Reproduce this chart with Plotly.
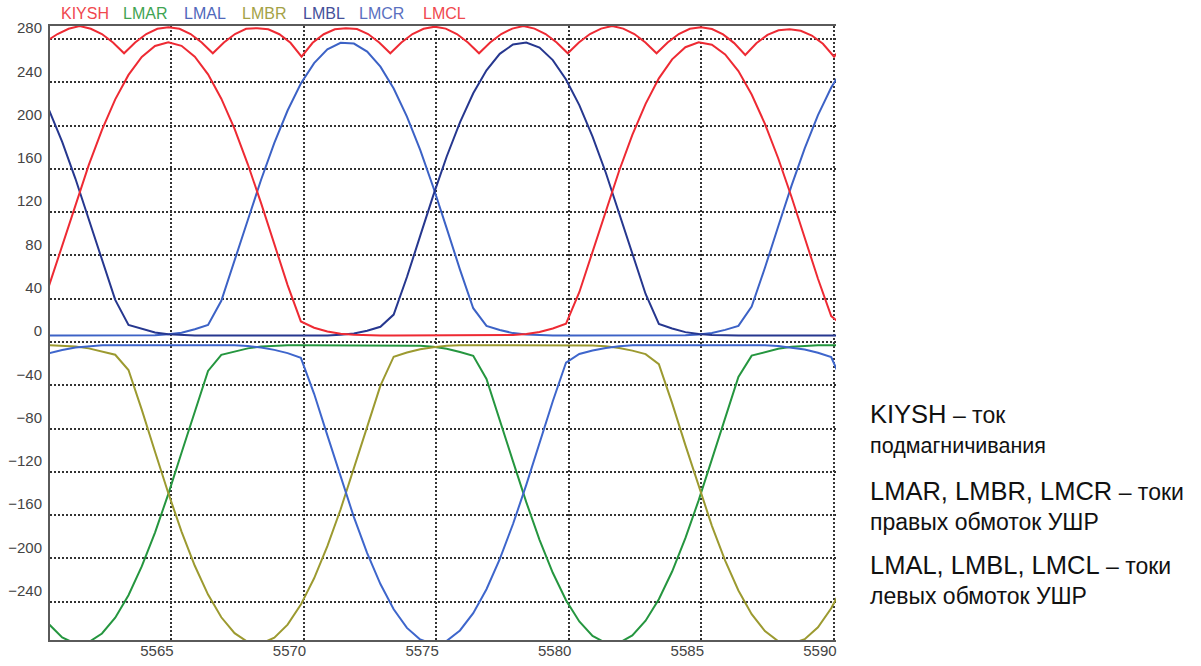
import plotly.graph_objects as go

# sample times (shared by the winding currents)
t = [5560.4, 5560.9, 5561.4, 5561.9, 5562.4, 5562.9, 5563.4, 5563.9, 5564.4, 5564.9,
     5565.4, 5565.9, 5566.4, 5566.9, 5567.4, 5567.9, 5568.4, 5568.9, 5569.4, 5569.9,
     5570.4, 5570.9, 5571.4, 5571.9, 5572.4, 5572.9, 5573.4, 5573.9, 5574.4, 5574.9,
     5575.4, 5575.9, 5576.4, 5576.9, 5577.4, 5577.9, 5578.4, 5578.9, 5579.4, 5579.9,
     5580.4, 5580.9, 5581.4, 5581.9, 5582.4, 5582.9, 5583.4, 5583.9, 5584.4, 5584.9,
     5585.4, 5585.9, 5586.4, 5586.9, 5587.4, 5587.9, 5588.4, 5588.9, 5589.4, 5589.9,
     5590.4]

LMAL = [6, 6, 6, 6, 6, 6, 6, 6, 6.3, 7.1,
        8.6, 11.8, 15.7, 38.1, 74.5, 112.7, 149.9, 184.0, 213.9, 238.8,
        257.7, 270.4, 276.5, 275.8, 268.4, 254.4, 234.2, 208.2, 177.5, 142.5,
        105.0, 66.9, 31.2, 14.8, 11.1, 8.2, 6.9, 6.2, 6, 6,
        6, 6, 6, 6, 6, 6, 6, 6, 6.2, 7.0,
        8.3, 11.2, 14.9, 32.7, 68.6, 106.7, 144.2, 178.9, 209.6, 235.2,
        255.1]

LMAR = [-260.8, -273.1, -278.7, -277.4, -269.4, -254.8, -234.0, -207.4, -176.1, -140.6,
        -102.3, -63.5, -26.8, -11.9, -8.6, -5.9, -4.2, -3.3, -3, -3,
        -3, -3, -3, -3, -3, -3, -3, -3, -3.4, -4.5,
        -6.3, -9.2, -12.8, -34.1, -71.3, -110.3, -148.0, -182.8, -213.3, -238.7,
        -258.3, -271.6, -278.2, -278.1, -271.1, -257.6, -237.7, -212.1, -181.3, -146.4,
        -108.5, -69.6, -32.3, -12.6, -9.1, -6.3, -4.4, -3.4, -3, -3,
        -3]

LMBL = [214.6, 184.9, 150.8, 113.7, 75.5, 38.9, 15.8, 11.9, 8.7, 7.2,
        6.3, 6, 6, 6, 6, 6, 6, 6, 6, 6,
        6, 6.1, 6.7, 7.9, 10.4, 14.0, 25.3, 60.0, 98.0, 135.9,
        171.4, 203.0, 229.8, 251.1, 266.3, 274.9, 276.8, 272.0, 260.5, 242.6,
        218.9, 189.8, 156.4, 119.7, 81.5, 44.4, 16.6, 12.4, 9.1, 7.3,
        6.4, 6, 6, 6, 6, 6, 6, 6, 6, 6,
        6]

LMBR = [-3, -3.3, -4.2, -5.9, -8.5, -11.8, -25.9, -62.5, -101.5, -139.6,
        -175.2, -206.8, -233.4, -254.4, -269.1, -277.3, -278.7, -273.3, -261.2, -242.7,
        -218.4, -188.7, -154.6, -117.4, -78.4, -40.4, -13.6, -9.7, -6.8, -4.8,
        -3.5, -3, -3, -3, -3, -3, -3, -3, -3, -3,
        -3, -3.2, -4.0, -5.6, -8.0, -11.2, -20.5, -56.5, -95.3, -133.7,
        -169.9, -202.1, -229.6, -251.5, -267.2, -276.5, -278.9, -274.6, -263.6, -246.1,
        -222.6]

LMCL = [51.7, 89.3, 127.3, 163.4, 196.1, 224.2, 246.8, 263.4, 273.5, 277.0,
        273.7, 263.7, 247.3, 224.8, 196.9, 164.2, 128.3, 90.2, 52.6, 19.0,
        13.2, 9.7, 7.6, 6.6, 6.0, 6, 6, 6, 6, 6,
        6, 6, 6, 6, 6, 6.4, 7.4, 9.2, 12.5, 16.9,
        46.0, 83.2, 121.4, 158.0, 191.3, 220.1, 243.6, 261.2, 272.4, 276.9,
        274.7, 265.7, 250.3, 228.7, 201.6, 169.8, 134.2, 96.3, 58.4, 23.9,
        13.8]

LMCR = [-10.4, -7.4, -5.2, -3.8, -3, -3, -3, -3, -3, -3,
        -3, -3, -3, -3, -3, -3.7, -5.1, -7.3, -10.3, -14.6,
        -47.9, -86.3, -125.1, -161.9, -195.1, -223.7, -247.0, -264.2, -275.0, -279.0,
        -276.2, -266.6, -250.6, -228.5, -200.7, -168.2, -132.1, -93.5, -54.8, -19.0,
        -11.1, -7.9, -5.5, -4.0, -3.1, -3, -3, -3, -3, -3,
        -3, -3, -3, -3, -3, -3.7, -5.0, -6.9, -9.9, -13.9,
        -42.1]

# magnetising current (own sample times, includes the cusps)
t_kiysh = [5560.400, 5560.724, 5561.142, 5561.560, 5561.978, 5562.397, 5562.815, 5563.233,
           5563.651, 5564.070, 5564.488, 5564.906, 5565.324, 5565.743, 5566.161, 5566.580,
           5566.998, 5567.416, 5567.835, 5568.253, 5568.671, 5569.090, 5569.508, 5569.926,
           5570.344, 5570.763, 5571.181, 5571.599, 5572.017, 5572.436, 5572.854, 5573.273,
           5573.691, 5574.109, 5574.528, 5574.946, 5575.364, 5575.783, 5576.201, 5576.619,
           5577.037, 5577.456, 5577.874, 5578.292, 5578.710, 5579.129, 5579.547, 5579.966,
           5580.384, 5580.802, 5581.221, 5581.639, 5582.057, 5582.476, 5582.894, 5583.313,
           5583.731, 5584.149, 5584.568, 5584.986, 5585.404, 5585.822, 5586.241, 5586.659,
           5587.077, 5587.496, 5587.914, 5588.332, 5588.750, 5589.169, 5589.587, 5590.006,
           5590.424]
KIYSH = [279.5, 284.6, 289.4, 292.0, 289.4, 284.6, 276.8, 266.8,
         276.8, 284.6, 289.4, 290.8, 289.4, 284.6, 276.8, 266.8,
         276.8, 284.6, 289.4, 290.0, 289.0, 284.4, 276.5, 263.6,
         276.5, 284.4, 289.0, 290.0, 289.2, 284.6, 276.8, 266.8,
         276.8, 284.6, 289.4, 291.4, 289.6, 284.6, 276.8, 266.8,
         276.8, 284.6, 289.6, 292.0, 289.6, 284.6, 276.8, 266.8,
         276.8, 284.6, 289.6, 292.0, 289.6, 284.6, 276.8, 266.8,
         276.8, 284.6, 289.4, 290.8, 289.2, 284.2, 276.2, 265.2,
         276.0, 283.8, 288.0, 289.0, 287.6, 283.2, 275.6, 263.6,
         276.0]

x_ticks = [5565, 5570, 5575, 5580, 5585, 5590]
y_ticks = [280, 240, 200, 160, 120, 80, 40, 0, -40, -80, -120, -160, -200, -240]

series_names = ["KIYSH", "LMAR", "LMAL", "LMBR", "LMBL", "LMCR", "LMCL"]
line_colors = {"KIYSH": "#ee2a33", "LMAR": "#25963f", "LMAL": "#3c62c6", "LMBR": "#9c9a30",
               "LMBL": "#26378f", "LMCR": "#3e66cc", "LMCL": "#ee2a33"}
label_colors = {"KIYSH": "#f0484e", "LMAR": "#3fa452", "LMAL": "#5068bb", "LMBR": "#a4a246",
                "LMBL": "#44509a", "LMCR": "#5a70c0", "LMCL": "#f0484e"}
data = {"KIYSH": (t_kiysh, KIYSH), "LMAR": (t, LMAR), "LMAL": (t, LMAL), "LMBR": (t, LMBR),
        "LMBL": (t, LMBL), "LMCR": (t, LMCR), "LMCL": (t, LMCL)}

fig = go.Figure()
for name in series_names:
    xs, ys = data[name]
    fig.add_trace(go.Scatter(x=xs, y=ys, mode="lines", name=name, showlegend=False,
                             line=dict(color=line_colors[name], width=2)))

grid = dict(showgrid=True, gridcolor="#333333", gridwidth=1.5, griddash="2px,2px",
            zeroline=False, ticks="", showline=True, linecolor="#5a5a5a", linewidth=2,
            automargin=False,
            tickfont=dict(family="Liberation Sans, Arial, sans-serif", size=15, color="#444444"))

fig.update_layout(
    width=1201, height=666,
    margin=dict(l=50, r=365, t=26, b=26),
    paper_bgcolor="white", plot_bgcolor="white",
    xaxis=dict(range=[5560.44, 5590.08], tickvals=x_ticks, mirror=True,
               ticklabelshift=-14, ticklabelstandoff=-4, **grid),
    yaxis=dict(range=[-275.4, 292], tickvals=y_ticks, mirror=False,
               ticklabelshift=-11, ticklabelstandoff=3, **grid),
)

# coloured series labels above the chart
label_x = [0.0115, 0.0904, 0.1680, 0.2418, 0.3194, 0.3907, 0.4721]
for name, lx in zip(series_names, label_x):
    fig.add_annotation(x=lx, y=1.020, xref="paper", yref="paper", text=name,
                       showarrow=False, xanchor="left", yanchor="middle",
                       font=dict(family="Liberation Sans, Arial, sans-serif", size=16,
                                 color=label_colors[name]))

notes = ["<span style='font-size:25.5px'>KIYSH</span> – ток<br>"
         "<span style='font-size:21.5px'>подмагничивания</span>",
         "<span style='font-size:25.5px'>LMAR, LMBR, LMCR</span> – токи<br>правых обмоток УШР",
         "<span style='font-size:25.5px'>LMAL, LMBL, LMCL</span> – токи<br>левых обмоток УШР"]
note_y = [0.3436, 0.2183, 0.0976]
for txt, ny in zip(notes, note_y):
    fig.add_annotation(x=1.0407, y=ny, xref="paper", yref="paper", text=txt,
                       showarrow=False, xanchor="left", yanchor="middle", align="left",
                       font=dict(family="Liberation Sans, Arial, sans-serif", size=23,
                                 color="#111111"))

fig.write_html("out.html")
